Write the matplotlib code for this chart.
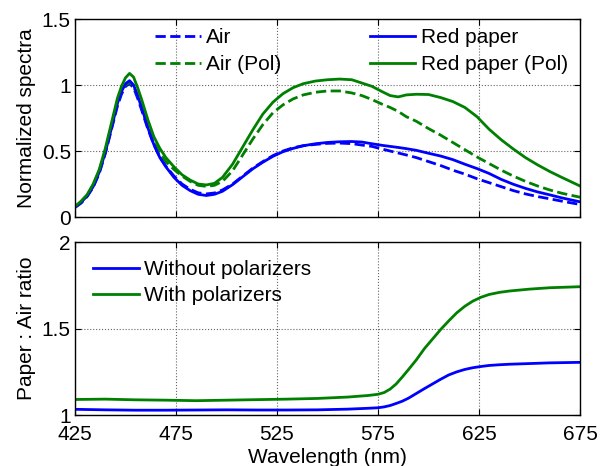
import matplotlib
matplotlib.use("Agg")

import matplotlib.pyplot as plt

# top panel: normalized spectra
wl = [425, 428, 431, 434, 437, 440, 443, 446, 448, 450, 452, 454, 456, 458,
      461, 464, 467, 470, 474, 478, 482, 486, 490, 494, 498, 503, 508, 513,
      518, 523, 528, 533, 538, 544, 550, 556, 562, 567, 572, 577, 581, 585,
      589, 594, 600, 606, 612, 618, 624, 630, 636, 642, 648, 654, 660, 666,
      675]
air = [0.072, 0.105, 0.155, 0.225, 0.33, 0.48, 0.66, 0.84, 0.93, 0.99, 1.01,
       0.98, 0.90, 0.81, 0.67, 0.55, 0.455, 0.385, 0.31, 0.25, 0.21, 0.183,
       0.175, 0.182, 0.205, 0.25, 0.31, 0.37, 0.42, 0.465, 0.50, 0.525, 0.54,
       0.55, 0.558, 0.56, 0.556, 0.545, 0.535, 0.515, 0.50, 0.485, 0.47,
       0.45, 0.42, 0.39, 0.355, 0.325, 0.29, 0.26, 0.23, 0.20, 0.175, 0.155,
       0.138, 0.12, 0.095]
air_pol = [0.075, 0.11, 0.16, 0.24, 0.35, 0.50, 0.68, 0.86, 0.95, 1.0, 1.02,
           0.99, 0.92, 0.83, 0.69, 0.57, 0.48, 0.42, 0.36, 0.31, 0.27, 0.24,
           0.232, 0.24, 0.27, 0.35, 0.47, 0.59, 0.70, 0.79, 0.85, 0.895,
           0.925, 0.945, 0.955, 0.955, 0.94, 0.92, 0.89, 0.855, 0.83, 0.80,
           0.76, 0.725, 0.67, 0.62, 0.565, 0.51, 0.455, 0.405, 0.355, 0.31,
           0.27, 0.235, 0.205, 0.18, 0.15]
paper = [0.075, 0.11, 0.16, 0.23, 0.34, 0.49, 0.67, 0.86, 0.95, 1.01, 1.033,
         1.0, 0.92, 0.83, 0.68, 0.55, 0.45, 0.38, 0.30, 0.24, 0.20, 0.172,
         0.163, 0.172, 0.195, 0.245, 0.305, 0.365, 0.415, 0.46, 0.495, 0.52,
         0.54, 0.555, 0.565, 0.57, 0.572, 0.568, 0.555, 0.543, 0.535, 0.527,
         0.518, 0.505, 0.483, 0.462, 0.435, 0.40, 0.367, 0.33, 0.285, 0.248,
         0.217, 0.19, 0.168, 0.145, 0.115]
paper_pol = [0.08, 0.12, 0.17, 0.25, 0.36, 0.52, 0.71, 0.90, 0.99, 1.055,
             1.088, 1.06, 0.98, 0.89, 0.74, 0.61, 0.52, 0.45, 0.38, 0.32,
             0.28, 0.25, 0.243, 0.255, 0.30, 0.40, 0.53, 0.66, 0.78, 0.87,
             0.935, 0.98, 1.01, 1.03, 1.04, 1.045, 1.04, 1.015, 0.99, 0.95,
             0.92, 0.91, 0.925, 0.93, 0.928, 0.905, 0.875, 0.83, 0.76, 0.665,
             0.585, 0.515, 0.45, 0.395, 0.345, 0.30, 0.235]

# bottom panel: paper / air ratio
wl_ratio = [425, 440, 455, 470, 485, 500, 515, 530, 545, 560, 570, 575, 578,
            581, 584, 587, 590, 594, 598, 602, 606, 610, 614, 618, 622, 626,
            630, 635, 640, 650, 660, 675]
ratio_nopol = [1.033, 1.03, 1.028, 1.028, 1.029, 1.03, 1.029, 1.029, 1.03,
               1.034, 1.039, 1.042, 1.047, 1.055, 1.067, 1.08, 1.097, 1.125,
               1.153, 1.18, 1.207, 1.232, 1.25, 1.264, 1.274, 1.281, 1.287,
               1.291, 1.294, 1.298, 1.302, 1.305]
ratio_pol = [1.09, 1.092, 1.088, 1.086, 1.083, 1.086, 1.089, 1.092, 1.096,
             1.104, 1.113, 1.12, 1.13, 1.15, 1.18, 1.22, 1.262, 1.32, 1.385,
             1.44, 1.495, 1.545, 1.592, 1.63, 1.66, 1.682, 1.698, 1.71, 1.718,
             1.729, 1.737, 1.743]

xticks = [425, 475, 525, 575, 625, 675]

BLUE = (0, 0, 1)
GREEN = (0, 0.5, 0)

plt.rcParams["font.family"] = ["Liberation Sans", "DejaVu Sans"]
plt.rcParams["font.size"] = 15

fig = plt.figure(figsize=(6, 4.66), dpi=100)
ax1 = fig.add_axes([0.125, 0.5343, 0.8417, 0.4249])
ax2 = fig.add_axes([0.125, 0.1094, 0.8417, 0.3706])

lw = 2.0
ax1.plot(wl, air, "--", color=BLUE, lw=lw, label="Air")
ax1.plot(wl, air_pol, "--", color=GREEN, lw=lw, label="Air (Pol)")
ax1.plot(wl, paper, "-", color=BLUE, lw=lw, label="Red paper")
ax1.plot(wl, paper_pol, "-", color=GREEN, lw=lw, label="Red paper (Pol)")
ax1.set_xlim(425, 675)
ax1.set_ylim(0, 1.5)
ax1.set_yticks([0, 0.5, 1, 1.5])
ax1.set_yticklabels(["0", "0.5", "1", "1.5"])
ax1.set_xticks(xticks)
ax1.set_xticklabels([])
ax1.set_ylabel("Normalized spectra")
ax1.legend(loc="upper left", bbox_to_anchor=(0.158, 0.955), ncol=2,
           frameon=False, borderpad=0, handlelength=2.2, handletextpad=0.25,
           columnspacing=4.25, labelspacing=0.38, borderaxespad=0)

ax2.plot(wl_ratio, ratio_nopol, color=BLUE, lw=lw, label="Without polarizers")
ax2.plot(wl_ratio, ratio_pol, color=GREEN, lw=lw, label="With polarizers")
ax2.set_xlim(425, 675)
ax2.set_ylim(1, 2)
ax2.set_yticks([1, 1.5, 2])
ax2.set_yticklabels(["1", "1.5", "2"])
ax2.set_xticks(xticks)
ax2.set_xlabel("Wavelength (nm)", labelpad=3)
ax2.set_ylabel("Paper : Air ratio")
ax2.legend(loc="upper left", bbox_to_anchor=(0.036, 0.895), frameon=False,
           borderpad=0, handlelength=2.2, handletextpad=0.25,
           labelspacing=0.33, borderaxespad=0)

for ax in (ax1, ax2):
    ax.grid(True, linestyle=":", color="0.4", lw=0.8)
    ax.tick_params(direction="in", top=True, right=True, length=4, pad=3)
    for sp in ax.spines.values():
        sp.set_linewidth(1.0)
ax2.tick_params(axis="x", pad=7)

fig.align_ylabels([ax1, ax2])
plt.savefig("out.png", dpi=100)
plt.close()
